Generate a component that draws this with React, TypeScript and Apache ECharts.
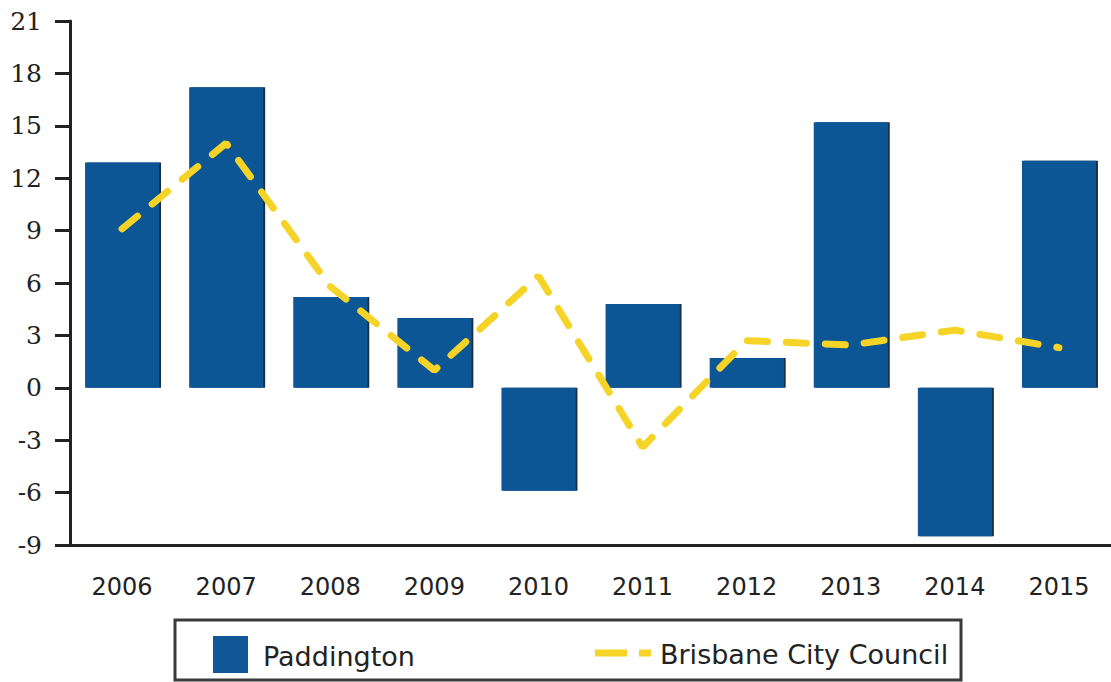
import React, { useEffect, useRef } from "react";
import * as echarts from "echarts";

const years = ["2006", "2007", "2008", "2009", "2010", "2011", "2012", "2013", "2014", "2015"];
const paddington = [12.9, 17.2, 5.2, 4.0, -5.9, 4.8, 1.7, 15.2, -8.5, 13.0];
const brisbane = [9.1, 14.0, 5.8, 1.0, 6.4, -3.4, 2.7, 2.45, 3.3, 2.3];
const seriesNames = ["Paddington", "Brisbane City Council"];

const BLUE = "#115696";
const YELLOW = "#f5d327";
const AXIS = "#222222";

export default function App() {
  const ref = useRef<HTMLDivElement>(null);
  useEffect(() => {
    if (!ref.current) return;
    const chart = echarts.init(ref.current, undefined, { renderer: "svg" });
    chart.setOption({
      animation: false,
      backgroundColor: "#ffffff",
      grid: { left: 70, top: 21, height: 524, width: 1049 },
      xAxis: {
        type: "category",
        data: years,
        axisLine: { onZero: false, lineStyle: { color: AXIS, width: 3 } },
        axisTick: { alignWithLabel: true, length: 12, lineStyle: { color: AXIS, width: 3 } },
        axisLabel: { fontFamily: "DejaVu Sans", fontSize: 24, color: "#222", margin: 30 },
        splitLine: { show: false },
      },
      yAxis: {
        type: "value",
        min: -9,
        max: 21,
        interval: 3,
        axisLine: { show: true, lineStyle: { color: AXIS, width: 3 } },
        axisTick: { show: true, length: 15, lineStyle: { color: AXIS, width: 3 } },
        axisLabel: { fontFamily: "DejaVu Serif", fontSize: 25, color: "#222", margin: 28 },
        splitLine: { show: false },
      },
      series: [
        {
          name: seriesNames[0],
          type: "bar",
          data: paddington,
          barWidth: 74,
          itemStyle: {
            color: BLUE,
            shadowColor: "rgba(5,20,50,0.9)",
            shadowOffsetX: 2,
            shadowBlur: 0,
          },
        },
        {
          name: seriesNames[1],
          type: "line",
          data: brisbane,
          symbol: "none",
          lineStyle: { color: YELLOW, width: 7, type: [20, 19], cap: "round" },
          z: 5,
        },
      ],
      graphic: [
        {
          type: "rect",
          shape: { x: 175, y: 620, width: 786, height: 60 },
          style: { fill: "#ffffff", stroke: "#3a3a3a", lineWidth: 3 },
        },
        {
          type: "rect",
          shape: { x: 213, y: 636, width: 35, height: 37 },
          style: { fill: BLUE },
        },
        {
          type: "text",
          x: 263,
          y: 656,
          style: {
            text: seriesNames[0],
            fontFamily: "DejaVu Sans",
            fontSize: 27,
            fill: "#222",
            verticalAlign: "middle",
          },
        },
        {
          type: "line",
          shape: { x1: 595, y1: 653, x2: 651, y2: 653 },
          style: { stroke: YELLOW, lineWidth: 7, lineDash: [32, 12] },
        },
        {
          type: "text",
          x: 660,
          y: 654,
          style: {
            text: seriesNames[1],
            fontFamily: "DejaVu Sans",
            fontSize: 27,
            fill: "#222",
            verticalAlign: "middle",
          },
        },
      ],
    });
    return () => chart.dispose();
  }, []);
  return (
    <div
      ref={ref}
      style={{ position: "fixed", left: 0, top: 0, width: 1111, height: 682, background: "#fff" }}
    />
  );
}
